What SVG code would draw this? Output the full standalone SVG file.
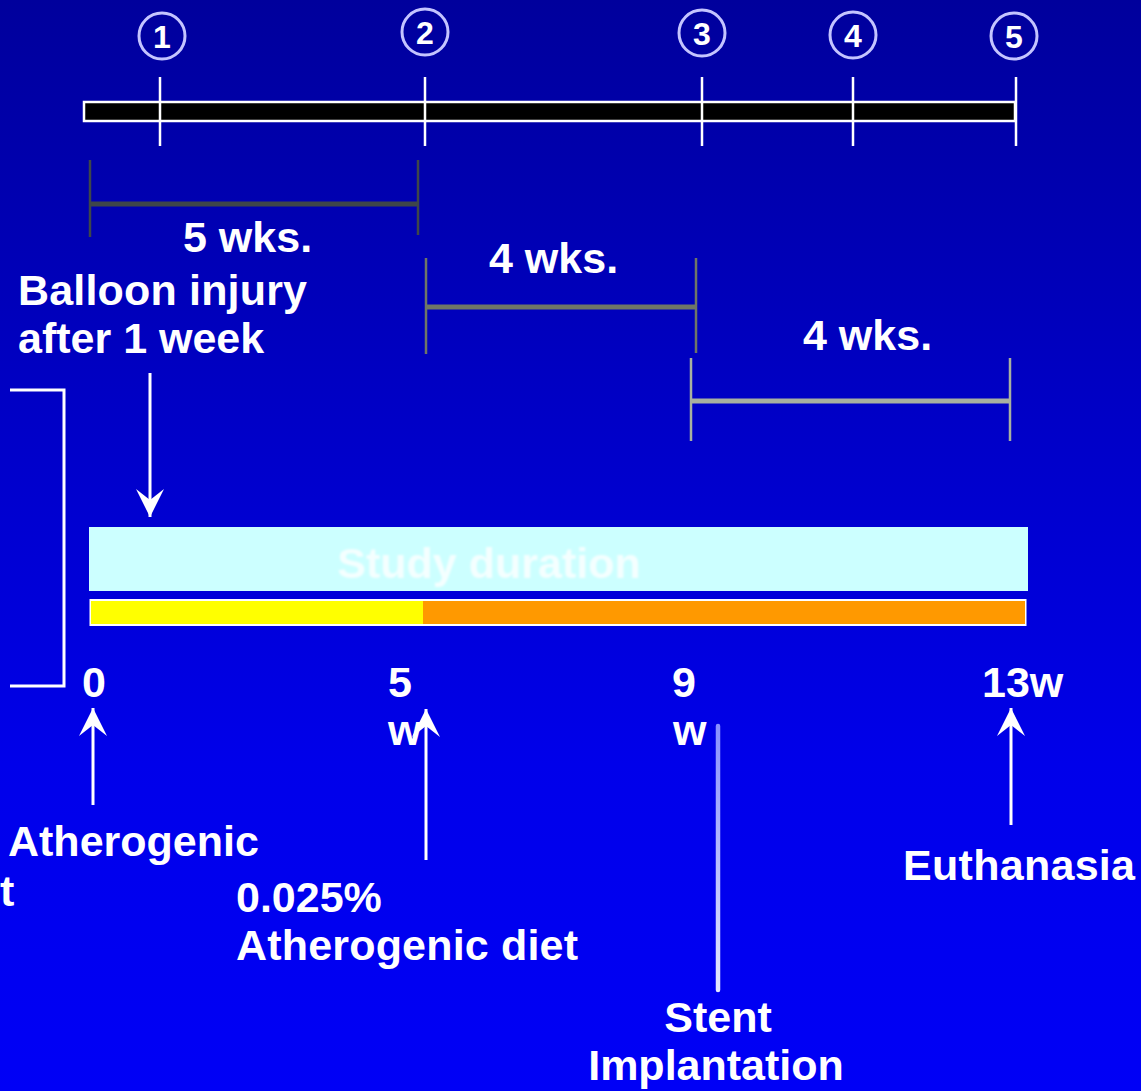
<svg xmlns="http://www.w3.org/2000/svg" width="1141" height="1091" viewBox="0 0 1141 1091">
<defs>
<linearGradient id="bg" x1="0" y1="0" x2="0" y2="1">
<stop offset="0" stop-color="#00009c"/>
<stop offset="0.7" stop-color="#0000ea"/>
<stop offset="1" stop-color="#0000f6"/>
</linearGradient>
<linearGradient id="stentLine" gradientUnits="userSpaceOnUse" x1="0" y1="725" x2="0" y2="990">
<stop offset="0" stop-color="#8890ff"/>
<stop offset="1" stop-color="#e4e8ff"/>
</linearGradient>
<marker id="head" viewBox="-30 -16 32 32" markerWidth="32" markerHeight="32" refX="0" refY="0" markerUnits="userSpaceOnUse" orient="auto">
<path d="M0,0 L-28,-14 L-17,0 L-28,14 Z" fill="#ffffff"/>
</marker>
<filter id="soft" x="-5%" y="-20%" width="110%" height="140%">
<feGaussianBlur stdDeviation="1.2"/>
</filter>
<style>
.t{font-family:"Liberation Sans",Arial,sans-serif;font-weight:bold;fill:#ffffff;font-size:43px}
.num{font-family:"Liberation Sans",Arial,sans-serif;font-weight:bold;fill:#ffffff;font-size:32px;text-anchor:middle}
.circ{fill:none;stroke:#c4c4ff;stroke-width:3}
.tick{stroke:#ffffff;stroke-width:2.5}
.wh{stroke:#ffffff;stroke-width:3;fill:none}
.arrow{stroke:#ffffff;stroke-width:3;fill:none;marker-end:url(#head)}
.b1{stroke:#3e464a;fill:none}
.b2{stroke:#6f7666;fill:none}
.b3{stroke:#a8b0a0;fill:none}
</style>
</defs>
<rect x="0" y="0" width="1141" height="1091" fill="url(#bg)"/>

<g id="timeline">
<rect x="84" y="102" width="931" height="19" fill="#000000" stroke="#ffffff" stroke-width="2.5"/>
<line class="tick" x1="160" y1="77" x2="160" y2="146"/>
<line class="tick" x1="425" y1="77" x2="425" y2="146"/>
<line class="tick" x1="702" y1="77" x2="702" y2="146"/>
<line class="tick" x1="853" y1="77" x2="853" y2="146"/>
<line class="tick" x1="1016" y1="77" x2="1016" y2="146"/>
</g>

<g id="marker1"><circle class="circ" cx="162" cy="36" r="23"/><text class="num" x="162" y="48">1</text></g>
<g id="marker2"><circle class="circ" cx="425" cy="32" r="23"/><text class="num" x="425" y="44">2</text></g>
<g id="marker3"><circle class="circ" cx="702" cy="33" r="23"/><text class="num" x="702" y="45">3</text></g>
<g id="marker4"><circle class="circ" cx="853" cy="35" r="23"/><text class="num" x="853" y="47">4</text></g>
<g id="marker5"><circle class="circ" cx="1014" cy="36" r="23"/><text class="num" x="1014" y="48">5</text></g>

<g id="span1">
<line class="b1" stroke-width="2.5" x1="90" y1="160" x2="90" y2="237"/>
<line class="b1" stroke-width="2.5" x1="418" y1="160" x2="418" y2="235"/>
<line class="b1" stroke-width="5" x1="90" y1="204" x2="418" y2="204"/>
<text class="t" x="183" y="252">5 wks.</text>
</g>

<g id="span2">
<line class="b2" stroke-width="2.5" x1="426" y1="258" x2="426" y2="354"/>
<line class="b2" stroke-width="2.5" x1="696" y1="258" x2="696" y2="353"/>
<line class="b2" stroke-width="5" x1="426" y1="307" x2="696" y2="307"/>
<text class="t" x="489" y="273">4 wks.</text>
</g>

<g id="span3">
<line class="b3" stroke-width="2.5" x1="691" y1="358" x2="691" y2="441"/>
<line class="b3" stroke-width="2.5" x1="1010" y1="358" x2="1010" y2="441"/>
<line class="b3" stroke-width="5" x1="691" y1="401" x2="1010" y2="401"/>
<text class="t" x="803" y="350">4 wks.</text>
</g>

<g id="balloon">
<text class="t" x="18" y="305" textLength="289">Balloon injury</text>
<text class="t" x="18" y="353">after 1 week</text>
</g>

<g id="bracket">
<polyline class="wh" stroke-width="2.5" points="10,390 64,390 64,686 10,686"/>
</g>

<g id="study">
<rect x="89" y="527" width="939" height="64" fill="#ccffff"/>
<text class="t" x="489" y="578" text-anchor="middle" style="fill:#f4ffff" filter="url(#soft)">Study duration</text>
</g>

<g id="diet-bar">
<rect x="89.5" y="599" width="937" height="27" fill="#ffffff"/>
<rect x="91" y="601" width="332" height="23" fill="#ffff00"/>
<rect x="423" y="601" width="602" height="23" fill="#ff9900"/>
</g>

<g id="axis">
<text class="t" x="82" y="697">0</text>
<text class="t" x="388" y="697">5</text>
<text class="t" x="388" y="745">w</text>
<text class="t" x="672" y="697">9</text>
<text class="t" x="673" y="745">w</text>
<text class="t" x="982" y="697">13w</text>
</g>

<g id="label-start">
<text class="t" x="8" y="856">Atherogenic</text>
<text class="t" x="0" y="906">t</text>
</g>

<g id="label-diet">
<text class="t" x="236" y="912">0.025%</text>
<text class="t" x="236" y="960" textLength="342">Atherogenic diet</text>
</g>

<g id="label-stent">
<text class="t" x="718" y="1032" text-anchor="middle">Stent</text>
<text class="t" x="716" y="1080" text-anchor="middle">Implantation</text>
</g>

<g id="label-euth">
<text class="t" x="903" y="880" textLength="232">Euthanasia</text>
</g>

<g id="connectors">
<line class="arrow" x1="150" y1="373" x2="150" y2="517"/>
<line class="arrow" x1="93" y1="805" x2="93" y2="708"/>
<line class="arrow" x1="426" y1="860" x2="426" y2="709"/>
<line x1="718" y1="990" x2="718" y2="726" stroke="url(#stentLine)" stroke-width="4.5" stroke-linecap="round"/>
<line class="arrow" x1="1011" y1="825" x2="1011" y2="708"/>
</g>
</svg>
